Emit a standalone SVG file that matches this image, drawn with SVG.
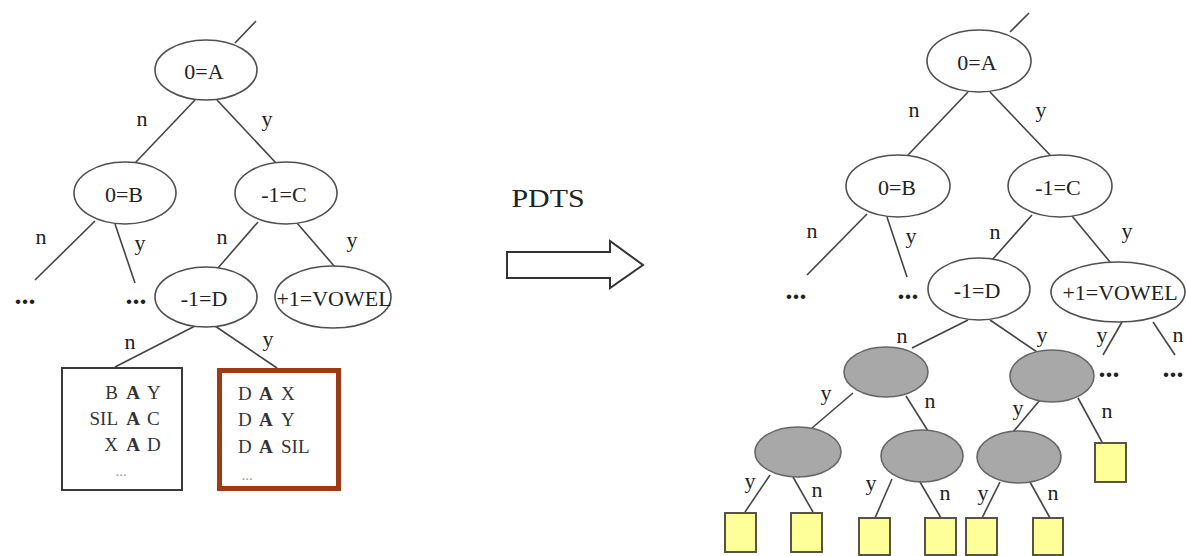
<svg xmlns="http://www.w3.org/2000/svg" width="1187" height="556" viewBox="0 0 1187 556">
<style>
.bg{fill:#ffffff}
.e{fill:#ffffff;stroke:#505050;stroke-width:1.6}
.g{fill:#a8a8a8;stroke:#666666;stroke-width:1.6}
.lf{fill:#ffff99;stroke:#555544;stroke-width:2}
.c line{stroke:#444444;stroke-width:1.6}
.t{font-family:"Liberation Serif","Times New Roman",serif;font-size:22px;fill:#222222;text-anchor:middle}
.l{font-family:"Liberation Serif","Times New Roman",serif;font-size:22px;fill:#222222;text-anchor:middle}
.d{font-family:"Liberation Serif","Times New Roman",serif;font-size:28px;font-weight:bold;fill:#222222;text-anchor:middle}
.b{font-family:"Liberation Serif","Times New Roman",serif;font-size:19px;fill:#333333}
.bb{font-weight:bold}
.s{font-family:"Liberation Serif","Times New Roman",serif;font-size:15px;fill:#999999}
</style>
<rect class="bg" x="0" y="0" width="1187" height="556"/>

<g id="connectors" class="c">
<!-- left tree -->
<line x1="235" y1="43" x2="256" y2="21"/>
<line x1="195" y1="100" x2="135" y2="163"/>
<line x1="217" y1="100" x2="276" y2="163"/>
<line x1="95" y1="221" x2="35" y2="280"/>
<line x1="115" y1="224" x2="135" y2="283"/>
<line x1="258" y1="222" x2="218" y2="268"/>
<line x1="297" y1="223" x2="335" y2="267"/>
<line x1="195" y1="326" x2="115" y2="367"/>
<line x1="215" y1="326" x2="277" y2="368"/>
<!-- right tree -->
<line x1="1010" y1="32" x2="1029" y2="13"/>
<line x1="968" y1="92" x2="908" y2="155"/>
<line x1="990" y1="92" x2="1050" y2="155"/>
<line x1="867" y1="214" x2="807" y2="275"/>
<line x1="887" y1="217" x2="907" y2="277"/>
<line x1="1032" y1="215" x2="992" y2="260"/>
<line x1="1072" y1="216" x2="1110" y2="262"/>
<line x1="968" y1="320" x2="912" y2="348"/>
<line x1="990" y1="320" x2="1037" y2="352"/>
<line x1="1122" y1="322" x2="1103" y2="355"/>
<line x1="1153" y1="322" x2="1175" y2="355"/>
<line x1="853" y1="393" x2="812" y2="428"/>
<line x1="906" y1="396" x2="928" y2="431"/>
<line x1="770" y1="475" x2="745" y2="512"/>
<line x1="793" y1="477" x2="813" y2="512"/>
<line x1="892" y1="479" x2="875" y2="518"/>
<line x1="920" y1="482" x2="941" y2="518"/>
<line x1="1000" y1="482" x2="982" y2="518"/>
<line x1="1030" y1="482" x2="1050" y2="518"/>
<line x1="1040" y1="400" x2="1013" y2="432"/>
<line x1="1078" y1="398" x2="1102" y2="442"/>
</g>

<g id="edge-labels">
<text class="l" x="142" y="126">n</text>
<text class="l" x="267" y="126">y</text>
<text class="l" x="41" y="244">n</text>
<text class="l" x="140" y="250">y</text>
<text class="l" x="222" y="244">n</text>
<text class="l" x="352" y="247">y</text>
<text class="l" x="130" y="349">n</text>
<text class="l" x="268" y="346">y</text>

<text class="l" x="914" y="117">n</text>
<text class="l" x="1041" y="117">y</text>
<text class="l" x="812" y="238">n</text>
<text class="l" x="911" y="243">y</text>
<text class="l" x="995" y="239">n</text>
<text class="l" x="1127" y="238">y</text>
<text class="l" x="902" y="343">n</text>
<text class="l" x="1042" y="342">y</text>
<text class="l" x="1102" y="342">y</text>
<text class="l" x="1178" y="342">n</text>
<text class="l" x="826" y="400">y</text>
<text class="l" x="930" y="408">n</text>
<text class="l" x="750" y="488">y</text>
<text class="l" x="817" y="497">n</text>
<text class="l" x="871" y="490">y</text>
<text class="l" x="945" y="500">n</text>
<text class="l" x="983" y="500">y</text>
<text class="l" x="1053" y="500">n</text>
<text class="l" x="1018" y="415">y</text>
<text class="l" x="1107" y="418">n</text>
</g>

<g id="ellipsis">
<text class="d" x="25" y="304">...</text>
<text class="d" x="136" y="304">...</text>
<text class="d" x="796" y="299">...</text>
<text class="d" x="908" y="299">...</text>
<text class="d" x="1109" y="377">...</text>
<text class="d" x="1173" y="377">...</text>
</g>

<!-- left tree nodes -->
<g id="L-A"><ellipse class="e" cx="206" cy="70" rx="51" ry="30"/><text class="t" x="204" y="79">0=A</text></g>
<g id="L-B"><ellipse class="e" cx="125" cy="193" rx="51" ry="31"/><text class="t" x="124" y="202">0=B</text></g>
<g id="L-C"><ellipse class="e" cx="286" cy="193" rx="51" ry="31"/><text class="t" x="284" y="202">-1=C</text></g>
<g id="L-D"><ellipse class="e" cx="206" cy="297" rx="51" ry="30"/><text class="t" x="204" y="306">-1=D</text></g>
<g id="L-V"><ellipse class="e" cx="333" cy="297" rx="58" ry="31"/><text class="t" x="334" y="306">+1=VOWEL</text></g>

<g id="L-box-n">
<rect x="62" y="368" width="120" height="122" fill="#ffffff" stroke="#3a3a3a" stroke-width="2"/>
<text class="b" x="118" y="399" text-anchor="end">B</text><text class="b bb" x="133" y="399" text-anchor="middle">A</text><text class="b" x="147" y="399">Y</text>
<text class="b" x="118" y="425" text-anchor="end">SIL</text><text class="b bb" x="133" y="425" text-anchor="middle">A</text><text class="b" x="147" y="425">C</text>
<text class="b" x="118" y="451" text-anchor="end">X</text><text class="b bb" x="133" y="451" text-anchor="middle">A</text><text class="b" x="147" y="451">D</text>
<text class="s" x="121" y="476" text-anchor="middle">...</text>
</g>
<g id="L-box-y">
<rect x="219.5" y="370.5" width="119" height="118" fill="#ffffff" stroke="#9c3b16" stroke-width="5"/>
<text class="b" x="238" y="400">D</text><text class="b bb" x="259" y="400">A</text><text class="b" x="281" y="400">X</text>
<text class="b" x="238" y="426">D</text><text class="b bb" x="259" y="426">A</text><text class="b" x="281" y="426">Y</text>
<text class="b" x="238" y="453">D</text><text class="b bb" x="259" y="453">A</text><text class="b" x="281" y="453">SIL</text>
<text class="s" x="247" y="480" text-anchor="middle">...</text>
</g>

<!-- transformation arrow -->
<g id="pdts">
<text x="548" y="207" font-family="Liberation Serif, serif" font-size="25" fill="#222222" text-anchor="middle" textLength="73" lengthAdjust="spacingAndGlyphs">PDTS</text>
<path d="M507,252 H610 V241 L643,265 L610,288 V278 H507 Z" fill="#ffffff" stroke="#333333" stroke-width="2"/>
</g>

<!-- right tree nodes -->
<g id="R-A"><ellipse class="e" cx="979" cy="61" rx="52" ry="31"/><text class="t" x="977" y="70">0=A</text></g>
<g id="R-B"><ellipse class="e" cx="898" cy="186" rx="52" ry="31"/><text class="t" x="897" y="195">0=B</text></g>
<g id="R-C"><ellipse class="e" cx="1060" cy="186" rx="52" ry="31"/><text class="t" x="1058" y="195">-1=C</text></g>
<g id="R-D"><ellipse class="e" cx="979" cy="289" rx="51" ry="31"/><text class="t" x="977" y="298">-1=D</text></g>
<g id="R-V"><ellipse class="e" cx="1118" cy="292" rx="67" ry="30"/><text class="t" x="1120" y="300">+1=VOWEL</text></g>

<g id="G1"><ellipse class="g" cx="886" cy="372" rx="42" ry="25"/></g>
<g id="G2"><ellipse class="g" cx="1052" cy="376" rx="42" ry="26"/></g>
<g id="G3"><ellipse class="g" cx="798" cy="452" rx="43" ry="25"/></g>
<g id="G4"><ellipse class="g" cx="922" cy="456" rx="41" ry="26"/></g>
<g id="G5"><ellipse class="g" cx="1019" cy="457" rx="42" ry="26"/></g>

<g id="Y1"><rect class="lf" x="725" y="513" width="31" height="39"/></g>
<g id="Y2"><rect class="lf" x="791" y="513" width="31" height="39"/></g>
<g id="Y3"><rect class="lf" x="859" y="518" width="31" height="37"/></g>
<g id="Y4"><rect class="lf" x="925" y="518" width="31" height="37"/></g>
<g id="Y5"><rect class="lf" x="966" y="518" width="31" height="37"/></g>
<g id="Y6"><rect class="lf" x="1033" y="518" width="30" height="37"/></g>
<g id="Y7"><rect class="lf" x="1095" y="443" width="31" height="39"/></g>
</svg>
